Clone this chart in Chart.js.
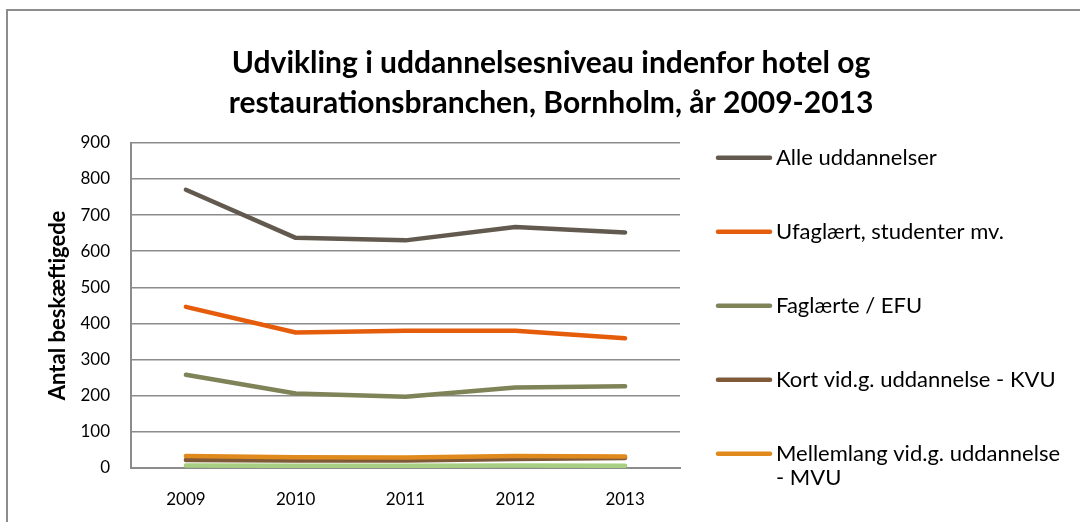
<!DOCTYPE html>
<html>
<head>
<meta charset="utf-8">
<script src="https://cdn.jsdelivr.net/npm/chart.js@4.4.1/dist/chart.umd.min.js"></script>
<style>
  html, body { margin: 0; padding: 0; background: #fff; }
  #wrap { width: 1080px; height: 522px; }
</style>
</head>
<body>
<div id="wrap"><canvas id="eduChart" width="1080" height="522"></canvas></div>
<script>
// data
const years = ['2009', '2010', '2011', '2012', '2013'];
const seriesNames = [
    'Alle uddannelser',
    'Ufaglært, studenter mv.',
    'Faglærte / EFU',
    'Kort vid.g. uddannelse - KVU',
    'Mellemlang vid.g. uddannelse - MVU',
    'Lang vid.g. uddannelse - LVU'
];
const alle = [770, 637, 630, 667, 652];
const ufaglaert = [446, 375, 380, 380, 359];
const faglaerte = [258, 206, 197, 223, 226];
const kvu = [22, 21, 21, 25, 28];
const mvu = [33, 30, 29, 33, 32];
const lvu = [7, 6, 6, 7, 6];
const yMax = 900;
const yStep = 100;

const colors = ['#625a4e', '#e55c0a', '#7f8458', '#7f5a38', '#e08a1e', '#a9cf82'];
// the last series is cut off in the original legend
const legendLines = [
    ['Alle uddannelser'],
    ['Ufaglært, studenter mv.'],
    ['Faglærte / EFU'],
    ['Kort vid.g. uddannelse - KVU'],
    ['Mellemlang vid.g. uddannelse', '- MVU']
];

const FONT = 'Lato, "Liberation Sans", sans-serif';

const frame = {
    id: 'frame',
    beforeDraw(chart) {
        const ctx = chart.ctx;
        ctx.save();
        ctx.fillStyle = '#fff';
        ctx.fillRect(0, 0, chart.width, chart.height);
        ctx.strokeStyle = '#8c8c8c';
        ctx.lineWidth = 2;
        ctx.beginPath();
        ctx.moveTo(7, chart.height);
        ctx.lineTo(7, 10);
        ctx.lineTo(chart.width, 10);
        ctx.stroke();
        ctx.restore();
    }
};

const sideLegend = {
    id: 'sideLegend',
    afterDraw(chart) {
        const ctx = chart.ctx;
        const area = chart.chartArea;
        ctx.save();
        ctx.font = '22px ' + FONT;
        ctx.textBaseline = 'middle';
        ctx.fillStyle = '#000';
        legendLines.forEach(function (lines, i) {
            const y = area.top + 15 + i * 74;
            ctx.strokeStyle = colors[i];
            ctx.lineWidth = 4.5;
            ctx.lineCap = 'round';
            ctx.beginPath();
            ctx.moveTo(area.right + 38, y);
            ctx.lineTo(area.right + 90, y);
            ctx.stroke();
            lines.forEach(function (t, j) {
                ctx.fillText(t, area.right + 96, y + j * 24);
            });
        });
        ctx.restore();
    }
};

const datasets = [alle, ufaglaert, faglaerte, kvu, mvu, lvu].map(function (vals, i) {
    return {
        label: seriesNames[i],
        data: vals,
        borderColor: colors[i],
        backgroundColor: colors[i],
        borderWidth: 4.5,
        borderCapStyle: 'round',
        borderJoinStyle: 'round',
        pointRadius: 0,
        tension: 0,
        order: 5 - i
    };
});

new Chart(document.getElementById('eduChart').getContext('2d'), {
    type: 'line',
    data: { labels: years, datasets: datasets },
    options: {
        responsive: false,
        animation: false,
        layout: { padding: { left: 22, right: 0, top: 0, bottom: 0 } },
        plugins: {
            legend: { display: false },
            tooltip: { enabled: false },
            title: {
                display: true,
                text: ['Udvikling i uddannelsesniveau indenfor hotel og', 'restaurationsbranchen, Bornholm, år 2009-2013'],
                color: '#000',
                font: { family: FONT, size: 30, weight: 'bold', lineHeight: 1.33 },
                padding: { top: 43, bottom: 20 }
            }
        },
        scales: {
            x: {
                offset: true,
                grid: { display: false, drawTicks: false },
                border: { display: true, color: '#8c8c8c', width: 2 },
                ticks: { color: '#000', font: { family: FONT, size: 17 }, padding: 21 },
                afterFit: function (scale) { scale.height = 54; }
            },
            y: {
                min: 0,
                max: yMax,
                grid: { color: '#8c8c8c', lineWidth: 1.5, drawTicks: false },
                border: { display: true, color: '#8c8c8c', width: 2 },
                ticks: { stepSize: yStep, color: '#000', font: { family: FONT, size: 17 }, padding: 21 },
                title: {
                    display: true,
                    text: 'Antal beskæftigede',
                    color: '#000',
                    font: { family: FONT, size: 22, weight: 'bold' },
                    padding: { top: 23, bottom: 0 }
                },
                afterFit: function (scale) { scale.width = 109; }
            },
            // empty right-hand axis that only keeps room for the legend
            legendSpace: {
                position: 'right',
                grid: { display: false, drawTicks: false },
                border: { display: false },
                ticks: { display: false },
                afterFit: function (scale) { scale.width = 400; }
            }
        }
    },
    plugins: [frame, sideLegend]
});
</script>
</body>
</html>
